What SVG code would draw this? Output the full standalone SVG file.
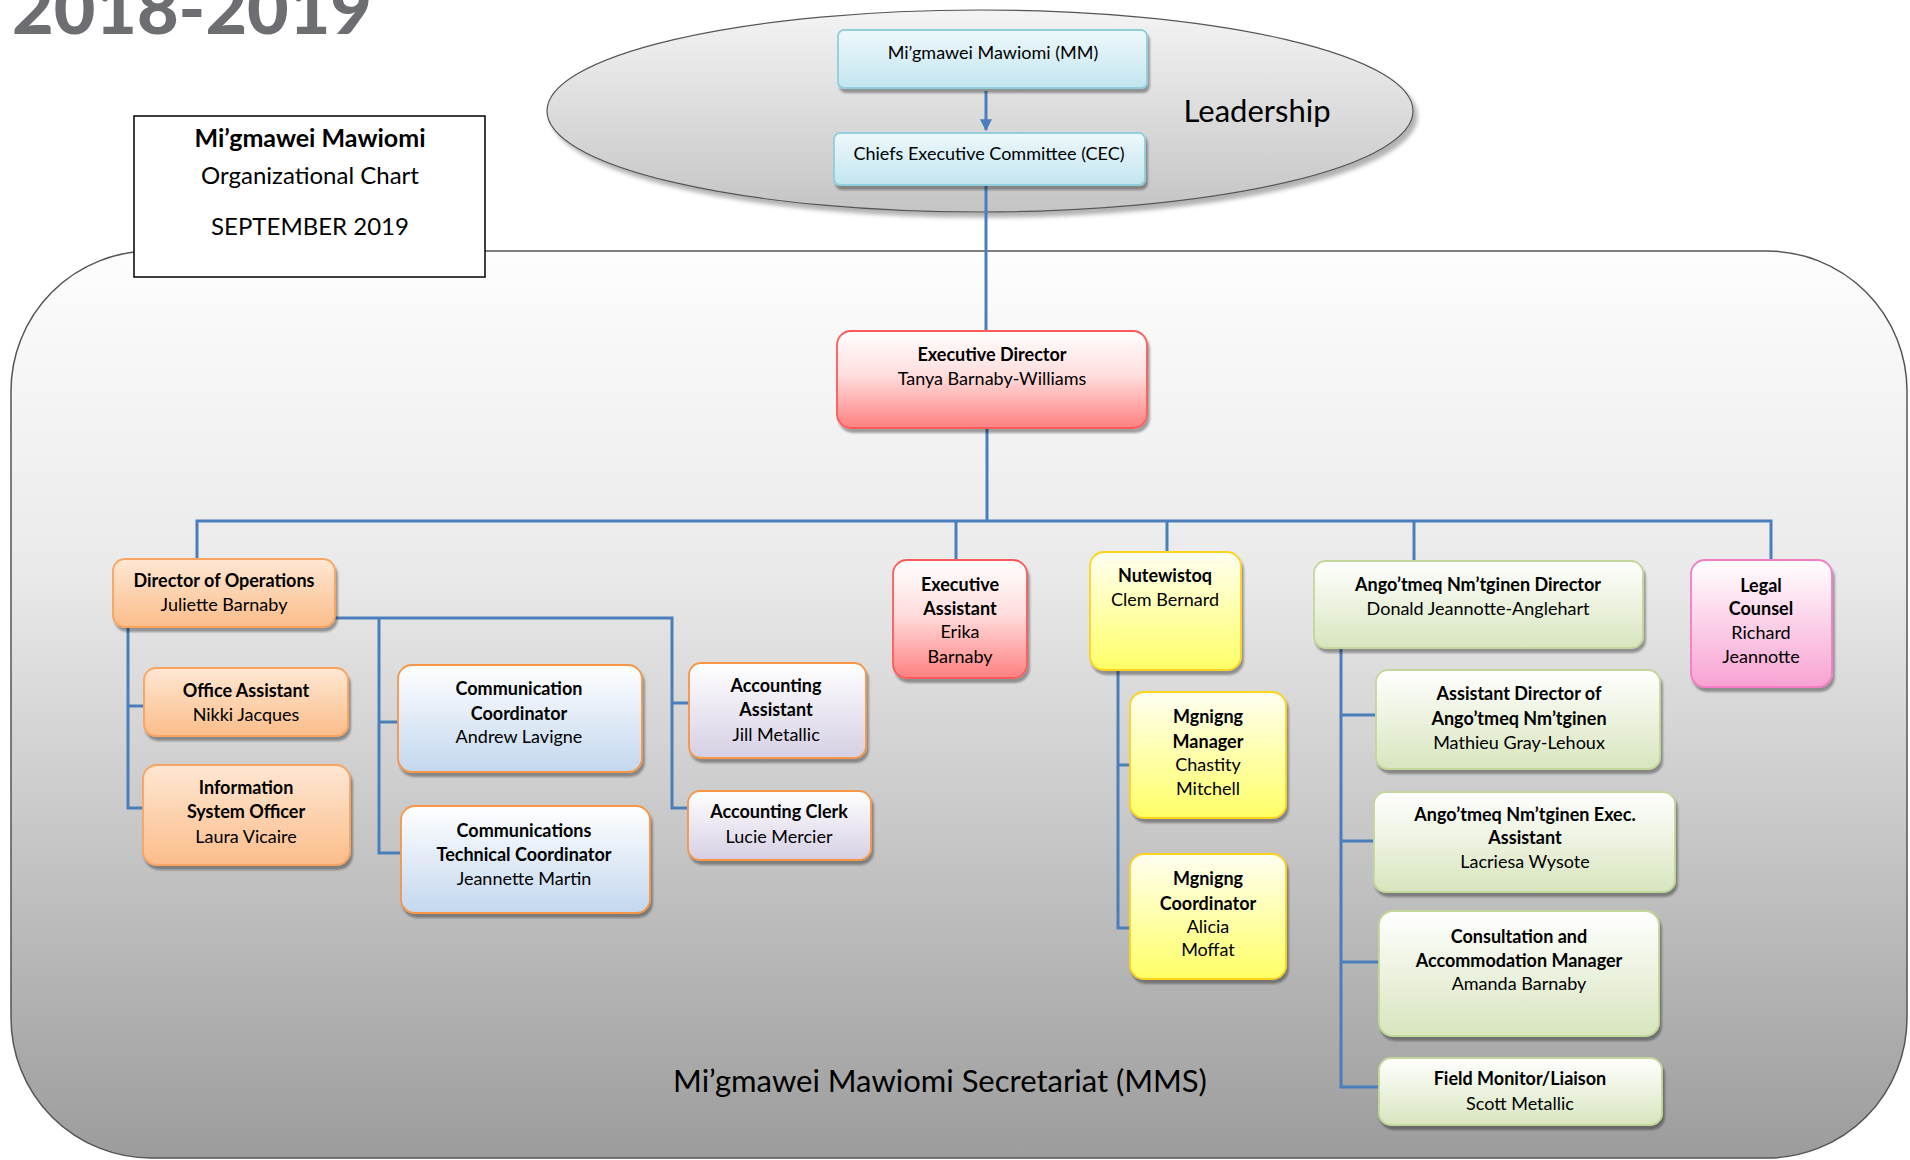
<svg xmlns="http://www.w3.org/2000/svg" width="1910" height="1160" viewBox="0 0 1910 1160">
<style>
text{font-family:Lato,"Open Sans","Liberation Sans",sans-serif;fill:#000;}
.t{font-size:18px;text-anchor:middle;}
.b{font-weight:bold;}
.c{fill:none;stroke:#4a7ebb;stroke-width:3;}
.n{filter:url(#sh);stroke-width:1.8;}
.blue{fill:url(#gBlue);stroke:#92cddc;}
.red{fill:url(#gRed);stroke:#ff5a5a;}
.org{fill:url(#gOrg);stroke:#f9a35e;}
.cb{fill:url(#gCb);stroke:#f79646;}
.lav{fill:url(#gLav);stroke:#f79646;}
.yel{fill:url(#gYel);stroke:#ffd21f;}
.grn{fill:url(#gGrn);stroke:#c4d79b;}
.pnk{fill:url(#gPnk);stroke:#f47cc3;}
</style>
<defs>
<linearGradient id="gBg" x1="0" y1="0" x2="0" y2="1"><stop offset="0" stop-color="#fdfdfd"/><stop offset="0.35" stop-color="#eaeaea"/><stop offset="1" stop-color="#9c9c9c"/></linearGradient>
<linearGradient id="gEl" x1="0" y1="0" x2="0" y2="1"><stop offset="0" stop-color="#f4f4f4"/><stop offset="1" stop-color="#c4c4c4"/></linearGradient>
<linearGradient id="gBlue" x1="0" y1="0" x2="0" y2="1"><stop offset="0" stop-color="#eef8fb"/><stop offset="1" stop-color="#c2e5ef"/></linearGradient>
<linearGradient id="gRed" x1="0" y1="0" x2="0" y2="1"><stop offset="0" stop-color="#fff"/><stop offset="0.45" stop-color="#ffdede"/><stop offset="1" stop-color="#ff8080"/></linearGradient>
<linearGradient id="gOrg" x1="0" y1="0" x2="0" y2="1"><stop offset="0" stop-color="#fee7d3"/><stop offset="1" stop-color="#fbbd8a"/></linearGradient>
<linearGradient id="gCb" x1="0" y1="0" x2="0" y2="1"><stop offset="0" stop-color="#fff"/><stop offset="1" stop-color="#c3d7ee"/></linearGradient>
<linearGradient id="gLav" x1="0" y1="0" x2="0" y2="1"><stop offset="0" stop-color="#fff"/><stop offset="1" stop-color="#d6cfe4"/></linearGradient>
<linearGradient id="gYel" x1="0" y1="0" x2="0" y2="1"><stop offset="0" stop-color="#fffff2"/><stop offset="1" stop-color="#ffff66"/></linearGradient>
<linearGradient id="gGrn" x1="0" y1="0" x2="0" y2="1"><stop offset="0" stop-color="#fff"/><stop offset="1" stop-color="#d8e5be"/></linearGradient>
<linearGradient id="gPnk" x1="0" y1="0" x2="0" y2="1"><stop offset="0" stop-color="#fff"/><stop offset="1" stop-color="#f8a2d2"/></linearGradient>
<filter id="sh" x="-10%" y="-10%" width="130%" height="140%"><feDropShadow dx="2" dy="4" stdDeviation="1.2" flood-color="#000" flood-opacity="0.35"/></filter>
<filter id="shE" x="-5%" y="-5%" width="115%" height="120%"><feDropShadow dx="4" dy="5" stdDeviation="2" flood-color="#000" flood-opacity="0.3"/></filter>
<marker id="arr" viewBox="0 0 10 10" refX="9" refY="5" markerWidth="4" markerHeight="4" orient="auto"><path d="M0,0 L10,5 L0,10 z" fill="#4a7ebb"/></marker>
</defs>

<rect width="1910" height="1160" fill="#fff"/>
<text x="12" y="34" font-family="Lato,'Liberation Sans',sans-serif" font-weight="900" font-size="70" fill="#6d6e71" style="fill:#6d6e71" textLength="360" lengthAdjust="spacingAndGlyphs">2018-2019</text>

<g id="secretariat">
<rect x="11" y="251" width="1896" height="907" rx="140" ry="140" fill="url(#gBg)" stroke="#555" stroke-width="1.5"/>
<text x="940" y="1092" font-size="31" text-anchor="middle">Mi’gmawei Mawiomi Secretariat (MMS)</text>
</g>

<g id="leadership">
<ellipse cx="980" cy="111" rx="433" ry="101" fill="url(#gEl)" stroke="#555" stroke-width="1.2" filter="url(#shE)"/>
<text x="1257" y="122" font-size="31" text-anchor="middle">Leadership</text>
</g>

<g id="title-box">
<rect x="134" y="116" width="351" height="161" fill="#fff" stroke="#000" stroke-width="1.5"/>
<text x="310" y="147" font-size="25" text-anchor="middle" font-weight="bold">Mi’gmawei Mawiomi</text>
<text x="310" y="184" font-size="24" text-anchor="middle">Organizational Chart</text>
<text x="310" y="235" font-size="24" text-anchor="middle">SEPTEMBER 2019</text>
</g>

<g id="connectors">
<line class="c" x1="986" y1="91" x2="986" y2="130" stroke-width="2" marker-end="url(#arr)"/>
<line class="c" x1="986" y1="185" x2="986" y2="331"/>
<line class="c" x1="987" y1="428" x2="987" y2="521"/>
<polyline class="c" points="197,559 197,521 1771,521 1771,560"/>
<line class="c" x1="956" y1="521" x2="956" y2="560"/>
<line class="c" x1="1167" y1="521" x2="1167" y2="552"/>
<line class="c" x1="1414" y1="521" x2="1414" y2="561"/>
<polyline class="c" points="128,627 128,808 143,808"/>
<line class="c" x1="128" y1="706" x2="144" y2="706"/>
<polyline class="c" points="335,618 672,618 672,808 688,808"/>
<line class="c" x1="672" y1="703" x2="689" y2="703"/>
<polyline class="c" points="379,618 379,853 401,853"/>
<line class="c" x1="379" y1="722" x2="398" y2="722"/>
<polyline class="c" points="1118,670 1118,928 1130,928"/>
<line class="c" x1="1118" y1="765" x2="1130" y2="765"/>
<polyline class="c" points="1341,648 1341,1087 1379,1087"/>
<line class="c" x1="1341" y1="715" x2="1376" y2="715"/>
<line class="c" x1="1341" y1="841" x2="1374" y2="841"/>
<line class="c" x1="1341" y1="962" x2="1379" y2="962"/>
</g>

<g id="mm">
<rect class="n blue" x="838" y="30" width="309" height="58" rx="6"/>
<text class="t" x="993" y="59">Mi’gmawei Mawiomi (MM)</text>
</g>
<g id="cec">
<rect class="n blue" x="834" y="133" width="311" height="52" rx="6"/>
<text class="t" x="989" y="160">Chiefs Executive Committee (CEC)</text>
</g>
<g id="executive-director">
<rect class="n red" x="837" y="331" width="310" height="97" rx="14"/>
<text class="t b" x="992" y="361">Executive Director</text>
<text class="t" x="992" y="385">Tanya Barnaby-Williams</text>
</g>
<g id="director-operations">
<rect class="n org" x="113" y="559" width="222" height="68" rx="12"/>
<text class="t b" x="224" y="587">Director of Operations</text>
<text class="t" x="224" y="611">Juliette Barnaby</text>
</g>
<g id="office-assistant">
<rect class="n org" x="144" y="668" width="204" height="68" rx="12"/>
<text class="t b" x="246" y="697">Office Assistant</text>
<text class="t" x="246" y="721">Nikki Jacques</text>
</g>
<g id="info-system-officer">
<rect class="n org" x="143" y="765" width="207" height="100" rx="14"/>
<text class="t b" x="246" y="794">Information</text>
<text class="t b" x="246" y="818">System Officer</text>
<text class="t" x="246" y="843">Laura Vicaire</text>
</g>
<g id="communication-coordinator">
<rect class="n cb" x="398" y="665" width="244" height="107" rx="14"/>
<text class="t b" x="519" y="695">Communication</text>
<text class="t b" x="519" y="720">Coordinator</text>
<text class="t" x="519" y="743">Andrew Lavigne</text>
</g>
<g id="comm-tech-coordinator">
<rect class="n cb" x="401" y="806" width="249" height="107" rx="14"/>
<text class="t b" x="524" y="837">Communications</text>
<text class="t b" x="524" y="861">Technical Coordinator</text>
<text class="t" x="524" y="885">Jeannette Martin</text>
</g>
<g id="accounting-assistant">
<rect class="n lav" x="689" y="663" width="177" height="95" rx="12"/>
<text class="t b" x="776" y="692">Accounting</text>
<text class="t b" x="776" y="716">Assistant</text>
<text class="t" x="776" y="741">Jill Metallic</text>
</g>
<g id="accounting-clerk">
<rect class="n lav" x="688" y="791" width="183" height="69" rx="12"/>
<text class="t b" x="779" y="818">Accounting Clerk</text>
<text class="t" x="779" y="843">Lucie Mercier</text>
</g>
<g id="executive-assistant">
<rect class="n red" x="893" y="560" width="134" height="118" rx="14"/>
<text class="t b" x="960" y="591">Executive</text>
<text class="t b" x="960" y="615">Assistant</text>
<text class="t" x="960" y="638">Erika</text>
<text class="t" x="960" y="663">Barnaby</text>
</g>
<g id="nutewistoq">
<rect class="n yel" x="1090" y="552" width="151" height="118" rx="14"/>
<text class="t b" x="1165" y="582">Nutewistoq</text>
<text class="t" x="1165" y="606">Clem Bernard</text>
</g>
<g id="mgnigng-manager">
<rect class="n yel" x="1130" y="692" width="156" height="126" rx="14"/>
<text class="t b" x="1208" y="723">Mgnigng</text>
<text class="t b" x="1208" y="748">Manager</text>
<text class="t" x="1208" y="771">Chastity</text>
<text class="t" x="1208" y="795">Mitchell</text>
</g>
<g id="mgnigng-coordinator">
<rect class="n yel" x="1130" y="854" width="156" height="125" rx="14"/>
<text class="t b" x="1208" y="885">Mgnigng</text>
<text class="t b" x="1208" y="910">Coordinator</text>
<text class="t" x="1208" y="933">Alicia</text>
<text class="t" x="1208" y="956">Moffat</text>
</g>
<g id="angotmeq-director">
<rect class="n grn" x="1314" y="561" width="329" height="87" rx="12"/>
<text class="t b" x="1478" y="591">Ango’tmeq Nm’tginen Director</text>
<text class="t" x="1478" y="615">Donald Jeannotte-Anglehart</text>
</g>
<g id="legal-counsel">
<rect class="n pnk" x="1691" y="560" width="141" height="127" rx="14"/>
<text class="t b" x="1761" y="592">Legal</text>
<text class="t b" x="1761" y="615">Counsel</text>
<text class="t" x="1761" y="639">Richard</text>
<text class="t" x="1761" y="663">Jeannotte</text>
</g>
<g id="assistant-director">
<rect class="n grn" x="1376" y="670" width="284" height="99" rx="12"/>
<text class="t b" x="1519" y="700">Assistant Director of</text>
<text class="t b" x="1519" y="725">Ango’tmeq Nm’tginen</text>
<text class="t" x="1519" y="749">Mathieu Gray-Lehoux</text>
</g>
<g id="angotmeq-exec-assistant">
<rect class="n grn" x="1374" y="792" width="301" height="100" rx="12"/>
<text class="t b" x="1525" y="821">Ango’tmeq Nm’tginen Exec.</text>
<text class="t b" x="1525" y="844">Assistant</text>
<text class="t" x="1525" y="868">Lacriesa Wysote</text>
</g>
<g id="consultation-manager">
<rect class="n grn" x="1379" y="911" width="280" height="125" rx="14"/>
<text class="t b" x="1519" y="943">Consultation and</text>
<text class="t b" x="1519" y="967">Accommodation Manager</text>
<text class="t" x="1519" y="990">Amanda Barnaby</text>
</g>
<g id="field-monitor">
<rect class="n grn" x="1379" y="1058" width="283" height="67" rx="12"/>
<text class="t b" x="1520" y="1085">Field Monitor/Liaison</text>
<text class="t" x="1520" y="1110">Scott Metallic</text>
</g>
</svg>
